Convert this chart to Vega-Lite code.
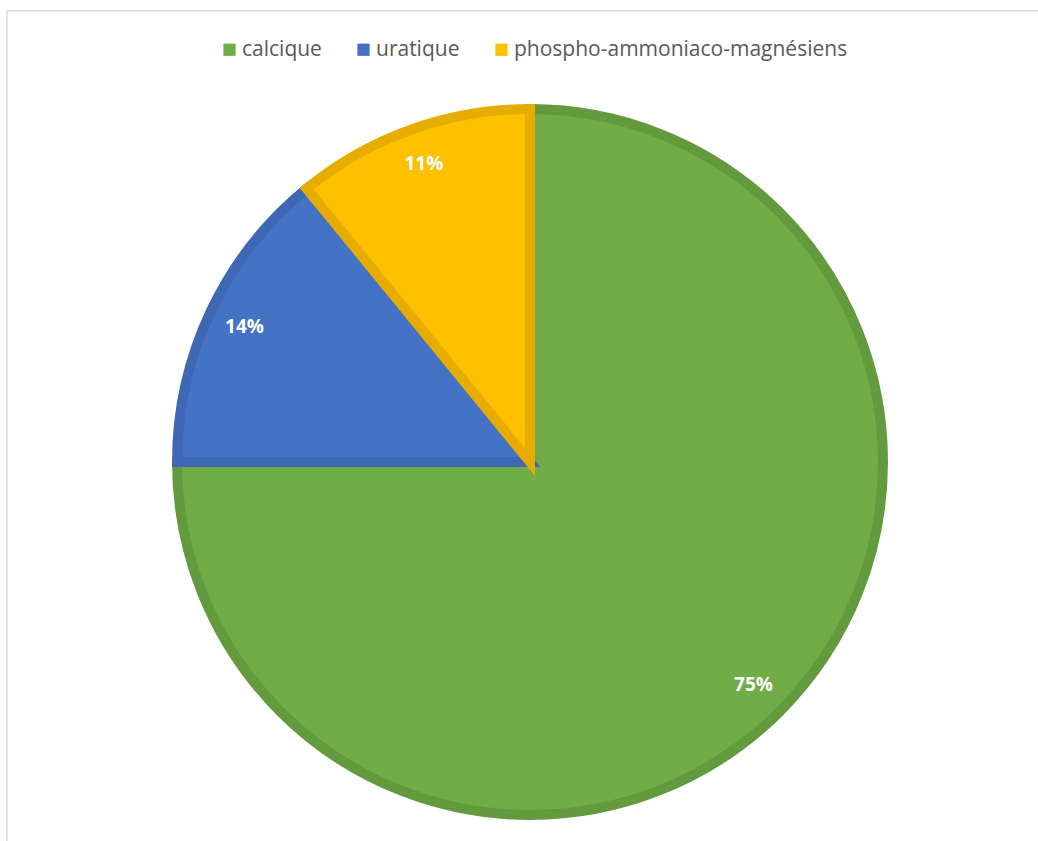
{
  "$schema": "https://vega.github.io/schema/vega-lite/v6.json",
  "width": 1046,
  "height": 902,
  "autosize": {"type": "none"},
  "padding": {"left": 7, "top": 11, "right": -15, "bottom": -72},
  "background": "white",
  "view": {"stroke": "#d9d9d9", "strokeWidth": 1.5},
  "config": {
    "view": {"stroke": "#d9d9d9", "strokeWidth": 1.5},
    "font": "Open Sans"
  },
  "data": {
    "values": [
      {"type": "calcique", "ordre": 1, "valeur": 75.0, "label": "75%"},
      {"type": "uratique", "ordre": 2, "valeur": 14.1, "label": "14%"},
      {"type": "phospho-ammoniaco-magnésiens", "ordre": 3, "valeur": 10.9, "label": "11%"}
    ]
  },
  "encoding": {
    "theta": {"field": "valeur", "type": "quantitative", "stack": true},
    "order": {"field": "ordre", "type": "quantitative"}
  },
  "layer": [
    {
      "mark": {"type": "arc", "radius": 353, "strokeWidth": 10, "strokeJoin": "miter"},
      "encoding": {
        "color": {
          "field": "type",
          "type": "nominal",
          "sort": ["calcique", "uratique", "phospho-ammoniaco-magnésiens"],
          "scale": {
            "domain": ["calcique", "uratique", "phospho-ammoniaco-magnésiens"],
            "range": ["#70AD47", "#4472C4", "#FFC000"]
          },
          "legend": {
            "title": null,
            "orient": "none",
            "direction": "horizontal",
            "legendX": 212,
            "legendY": 28,
            "symbolType": "square",
            "symbolSize": 150,
            "symbolStrokeWidth": 0,
            "symbolOpacity": 1,
            "labelFontSize": 21,
            "labelColor": "#595959",
            "labelFont": "Open Sans",
            "labelLimit": 500,
            "columnPadding": 31,
            "symbolOffset": 0,
            "labelOffset": 2,
            "padding": 0
          }
        },
        "stroke": {
          "field": "type",
          "type": "nominal",
          "scale": {
            "domain": ["calcique", "uratique", "phospho-ammoniaco-magnésiens"],
            "range": ["#629A3D", "#3E68B4", "#E6AD00"]
          },
          "legend": null
        }
      }
    },
    {
      "mark": {"type": "text", "radius": 316, "fontSize": 19, "fontWeight": "bold", "color": "white", "font": "Open Sans"},
      "encoding": {
        "text": {"field": "label", "type": "nominal"}
      }
    }
  ]
}
